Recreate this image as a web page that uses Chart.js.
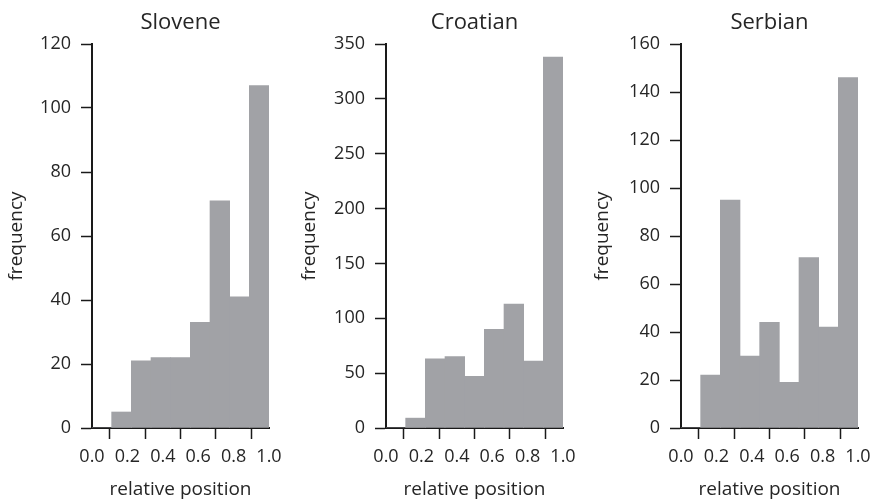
<!DOCTYPE html>
<html lang="en">
<head>
    <meta charset="UTF-8">
    <title>Relative position histograms</title>
    <script src="https://cdn.jsdelivr.net/npm/chart.js"></script>
    <style>
        body {
            margin: 0;
            background: white;
            width: 872px;
            height: 499px;
            position: relative;
            overflow: hidden;
        }
        .panel {
            position: absolute;
            top: 0;
            height: 499px;
        }
    </style>
</head>
<body>
    <div class="panel" style="left:0;width:290px"><canvas id="sloveneChart"></canvas></div>
    <div class="panel" style="left:290px;width:290px"><canvas id="croatianChart"></canvas></div>
    <div class="panel" style="left:580px;width:292px"><canvas id="serbianChart"></canvas></div>

    <script>
        // bins of the histogram (9 equal bins on 0..1)
        const binEdges = [0, 1/9, 2/9, 3/9, 4/9, 5/9, 6/9, 7/9, 8/9, 1];
        const xTicks = [0.0, 0.2, 0.4, 0.6, 0.8, 1.0];

        // frequencies per bin
        const slovene = [0, 5, 21, 22, 22, 33, 71, 41, 107];
        const croatian = [0, 9, 63, 65, 47, 90, 113, 61, 338];
        const serbian = [0, 22, 95, 30, 44, 19, 71, 42, 146];

        const titles = ['Slovene', 'Croatian', 'Serbian'];
        const yMax = [120, 350, 160];
        const yStep = [20, 50, 20];

        const FONT = '"Open Sans", "Noto Sans", sans-serif';
        const TEXT = '#262626';
        const AXIS = '#1a1a1a';
        const BAR = '#a1a2a6';

        Chart.defaults.font.family = FONT;
        Chart.defaults.color = TEXT;

        function makeChart(id, title, values, max, step, leftWidth, rightPad, yTitlePad) {
            const points = values.map((v, i) => ({
                x: (binEdges[i] + binEdges[i + 1]) / 2,
                y: v
            }));

            return new Chart(document.getElementById(id), {
                type: 'bar',
                data: {
                    datasets: [{
                        data: points,
                        backgroundColor: BAR,
                        borderWidth: 0,
                        barPercentage: 1,
                        categoryPercentage: 1
                    }]
                },
                options: {
                    responsive: true,
                    maintainAspectRatio: false,
                    animation: false,
                    layout: { padding: { left: 0, right: rightPad, top: 0, bottom: 0 } },
                    plugins: {
                        legend: { display: false },
                        tooltip: { enabled: false },
                        title: {
                            display: true,
                            text: title,
                            fullSize: false,
                            color: TEXT,
                            font: { size: 22, weight: 'normal', lineHeight: 1.2 },
                            padding: { top: 10, bottom: 7.6 }
                        }
                    },
                    scales: {
                        x: {
                            type: 'linear',
                            offset: false,
                            min: 0,
                            max: 1,
                            afterBuildTicks: s => { s.ticks = xTicks.map(v => ({ value: v })); },
                            afterFit: s => {
                                s.height = 71;
                                // layout padding already leaves room for the end labels
                                s.paddingLeft = 0;
                                s.paddingRight = 0;
                            },
                            grid: {
                                display: true,
                                drawOnChartArea: false,
                                drawTicks: true,
                                tickLength: 11,
                                tickColor: AXIS,
                                tickWidth: 1.5
                            },
                            border: { display: true, color: AXIS, width: 2 },
                            ticks: {
                                padding: 7,
                                maxRotation: 0,
                                font: { size: 18 },
                                callback: v => Number(v).toFixed(1)
                            },
                            title: {
                                display: true,
                                text: 'relative position',
                                font: { size: 19, lineHeight: 1.0 },
                                padding: { top: 0, bottom: 0 }
                            }
                        },
                        y: {
                            min: 0,
                            max: max,
                            afterFit: s => { s.width = leftWidth; },
                            grid: {
                                display: true,
                                drawOnChartArea: false,
                                drawTicks: true,
                                tickLength: 11,
                                tickColor: AXIS,
                                tickWidth: 1.5
                            },
                            border: { display: true, color: AXIS, width: 2 },
                            ticks: {
                                stepSize: step,
                                padding: 10,
                                font: { size: 18 }
                            },
                            title: {
                                display: true,
                                text: 'frequency',
                                font: { size: 19, lineHeight: 1.0 },
                                padding: { top: yTitlePad, bottom: 0 }
                            }
                        }
                    }
                }
            });
        }

        makeChart('sloveneChart', titles[0], slovene, yMax[0], yStep[0], 92, 21, 7.5);
        makeChart('croatianChart', titles[1], croatian, yMax[1], yStep[1], 96, 17, 10.5);
        makeChart('serbianChart', titles[2], serbian, yMax[2], yStep[2], 101, 14, 13.5);
    </script>
</body>
</html>
